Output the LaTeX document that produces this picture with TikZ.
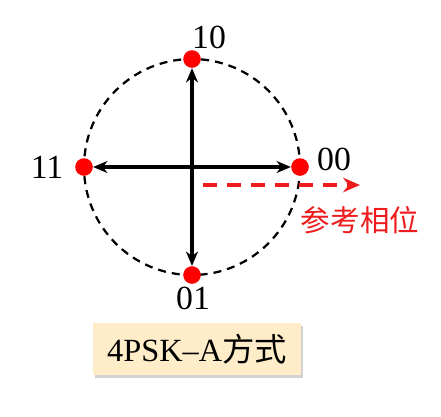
\documentclass[tikz,border=0pt]{standalone}
\usepackage{fontspec}
\setmainfont{Liberation Serif}
\newfontfamily\cjkfont{Noto Sans CJK SC}
\usepackage{xcolor}
\usetikzlibrary{arrows.meta, positioning, shadows}
\definecolor{labelbg}{RGB}{255,236,201}
\definecolor{refred}{RGB}{238,28,28}

\begin{document}
\begin{tikzpicture}[x=0.025cm, y=-0.025cm,
  dot/.style={circle, fill=red, inner sep=0pt, minimum size=0.44cm},
  bit/.style={font=\fontsize{24}{26}\selectfont, inner sep=0pt},
  vec/.style={-{Stealth[length=0.36cm, width=0.3cm]}, line width=2.4pt, black},
  ref/.style={-{Stealth[length=0.42cm, width=0.36cm, open]}, line width=2.5pt, refred, dash pattern=on 0.36cm off 0.24cm},
  tag/.style={rectangle, fill=labelbg, minimum width=5.2cm, minimum height=1.3cm, font=\fontsize{23}{25}\selectfont,
    drop shadow={shadow xshift=0.06cm, shadow yshift=-0.08cm, opacity=0.35}}
]
\useasboundingbox (0,0) rectangle (441,416);

% circle of phases
\coordinate (c) at (192,167);
\draw[line width=1.6pt, dash pattern=on 0.2cm off 0.15cm] (c) circle (108);

% constellation points
\node[dot] (p10) at (192,59) {};
\node[dot] (p11) at (84,167) {};
\node[dot] (p00) at (300,167) {};
\node[dot] (p01) at (192,275) {};

\draw[vec] (c) -- (p10);
\draw[vec] (c) -- (p11);
\draw[vec] (c) -- (p00);
\draw[vec] (c) -- (p01);

% bit labels
\node[bit] (l10) at (209,37) {10};
\node[bit] (l11) at (47,167) {11};
\node[bit] (l00) at (334,159) {00};
\node[bit] (l01) at (193,298) {01};

% reference phase
\coordinate (r0) at (203,185);
\coordinate (r1) at (360,185);
\draw[ref] (r0) -- (r1);
\node[font=\cjkfont\fontsize{21}{24}\selectfont, text=refred, inner sep=0pt] (refname) at (360,220) {参考相位};

% caption
\node[tag] (mode) at (197,349) {4PSK–A{\cjkfont 方式}};
\end{tikzpicture}
\end{document}
